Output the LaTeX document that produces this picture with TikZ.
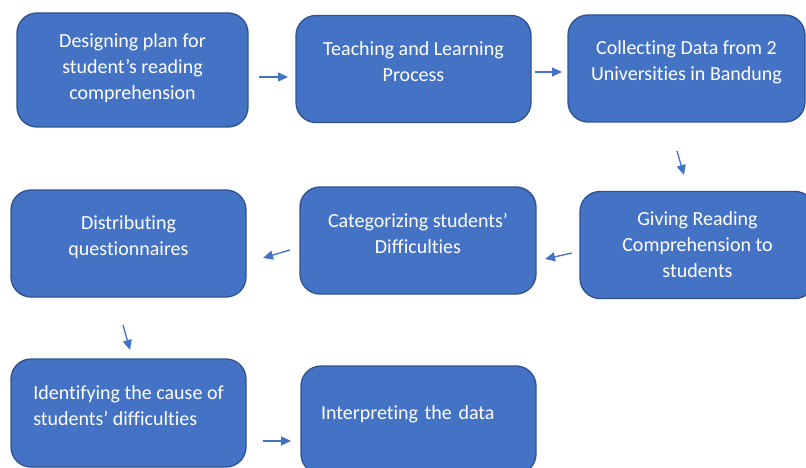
\documentclass[tikz,border=0pt]{standalone}
\usepackage{fontspec}
\setmainfont{Carlito}[Ligatures={NoCommon}]
\usetikzlibrary{arrows.meta}
\definecolor{boxfill}{HTML}{4472C4}
\definecolor{boxline}{HTML}{2F528F}

\begin{document}
\begin{tikzpicture}[x=1pt,y=-1pt]
	\tikzset{flowbox/.style={rectangle, rounded corners=20pt, draw=boxline,
		line width=1.3pt, fill=boxfill, text=white,
		font=\fontsize{20}{26}\selectfont, align=center,
		minimum width=235pt, minimum height=107pt, text depth=15pt}}
	\tikzset{leftbox/.style={flowbox, align=left, text width=195pt,
		inner xsep=20pt}}
	\tikzset{flowarrow/.style={-{Triangle[length=10pt,width=9pt]},
		line width=1.3pt, draw=boxfill}}

	\clip (0,0) rectangle (806,468);
	\fill[white] (0,0) rectangle (806,468);

	% first row
	\node[flowbox, minimum width=231pt, minimum height=114pt, text depth=7pt]
		(plan) at (132.5,70) {Designing plan for\\student’s reading\\comprehension};
	\node[flowbox] (teach) at (413.5,69) {Teaching and Learning\\Process};
	\node[flowbox, minimum width=237pt] (collect) at (686.5,68.5)
		{Collecting Data from 2\\Universities in Bandung};

	% second row
	\node[flowbox, text depth=0pt] (giving) at (697.5,245)
		{Giving Reading\\Comprehension to\\students};
	\node[flowbox, minimum width=236pt] (categ) at (418,240.5)
		{Categorizing students’\\Difficulties};
	\node[flowbox] (distr) at (128.5,243.5) {Distributing\\questionnaires};

	% third row
	\node[flowbox, align=left, minimum height=108pt] (ident) at (128.5,413)
		{Identifying the cause of\\students’ difficulties};
	\node[leftbox, minimum height=108pt] (interp) at (418.5,420)
		{Interpreting the data};

	% arrow ends
	\coordinate (a1s) at (259,77);  \coordinate (a1e) at (288,77);
	\coordinate (a2s) at (535,72);  \coordinate (a2e) at (562,72);
	\coordinate (a3s) at (677,151); \coordinate (a3e) at (684,175);
	\coordinate (a4s) at (572,253); \coordinate (a4e) at (545,259);
	\coordinate (a5s) at (290,250); \coordinate (a5e) at (263,258);
	\coordinate (a6s) at (123,325); \coordinate (a6e) at (130,350);
	\coordinate (a7s) at (263,441); \coordinate (a7e) at (291,441);

	\draw[flowarrow] (a1s) -- (a1e);
	\draw[flowarrow] (a2s) -- (a2e);
	\draw[flowarrow] (a3s) -- (a3e);
	\draw[flowarrow] (a4s) -- (a4e);
	\draw[flowarrow] (a5s) -- (a5e);
	\draw[flowarrow] (a6s) -- (a6e);
	\draw[flowarrow] (a7s) -- (a7e);
\end{tikzpicture}
\end{document}
